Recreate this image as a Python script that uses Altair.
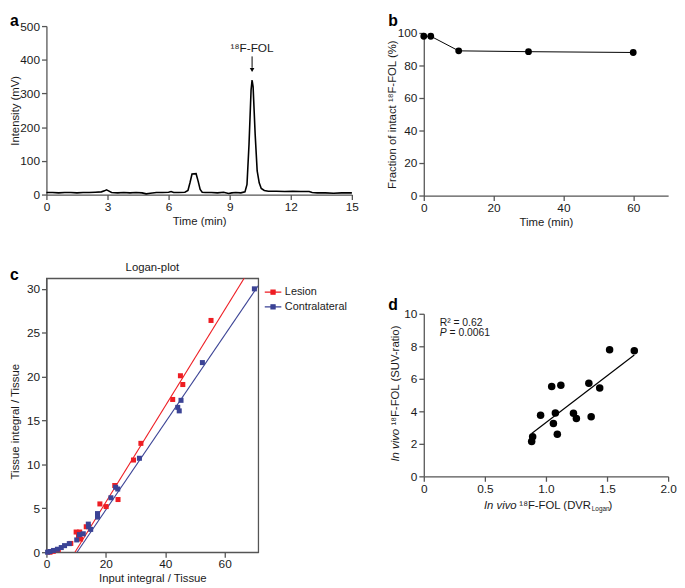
import altair as alt
import pandas as pd

FONT = "Liberation Sans"
AXC = "#555555"
TXT = "#1a1a1a"
RED = "#ee1d23"
BLUE = "#3b4395"

# ---------------- data ----------------
# a: radio-HPLC chromatogram
chrom_time = [0, 0.3, 0.6, 0.9, 1.2, 1.5, 1.8, 2.1, 2.4, 2.7,
              2.85, 2.95, 3.05, 3.2, 3.5, 3.8, 4.1, 4.4, 4.7, 4.9,
              5.1, 5.4, 5.7, 6.0, 6.12, 6.25, 6.5, 6.8, 6.95, 7.05,
              7.15, 7.35, 7.45, 7.55, 7.65, 7.8, 8.1, 8.4, 8.7, 8.95,
              9.1, 9.3, 9.55, 9.75, 9.85, 9.95, 10.05, 10.1, 10.15, 10.25,
              10.35, 10.45, 10.55, 10.7, 10.9, 11.3, 11.7, 12.1, 12.5, 12.9,
              13.05, 13.3, 13.7, 14.1, 14.5, 14.8, 15.0]
chrom_mv = [6, 6, 5, 6, 6, 5, 6, 6, 7, 8,
            11, 14, 11, 6, 5, 6, 5, 6, 5, 2,
            4, 6, 6, 7, 9, 6, 6, 7, 12, 35,
            61, 62, 40, 15, 7, 6, 6, 5, 7, 3,
            5, 6, 5, 8, 30, 150, 310, 340, 320, 180,
            70, 35, 18, 12, 10, 10, 9, 10, 9, 9,
            6, 5, 5, 4, 5, 5, 5]
peak_label = ["¹⁸F-FOL"]
peak_time = [10.1]

# b: metabolite analysis
metab_time = [0, 2, 10, 30, 60]
metab_intact = [98, 98, 89, 88.5, 88]

# c: Logan plot
lesion_x = [1.2, 2.3, 4.0, 8.2, 10.0, 10.8, 11.2, 11.5, 13.4, 18.0,
            20.1, 23.0, 24.1, 29.3, 31.8, 42.5, 45.1, 45.9, 55.4]
lesion_y = [0.0, 0.1, 0.3, 1.0, 2.3, 1.9, 2.3, 1.5, 2.9, 5.5,
            5.2, 7.6, 6.0, 10.5, 12.4, 17.4, 20.1, 19.1, 26.4]
contra_x = [0.4, 1.2, 2.4, 3.7, 5.0, 6.1, 7.7, 10.2, 11.1, 12.4,
            14.1, 14.2, 14.9, 17.2, 17.2, 21.7, 23.3, 24.0, 31.3, 44.2,
            44.7, 45.3, 52.5, 70.0]
contra_y = [0.0, 0.08, 0.2, 0.34, 0.53, 0.75, 0.98, 1.4, 2.0, 2.1,
            3.2, 2.9, 2.6, 4.4, 4.0, 6.2, 7.4, 7.2, 10.7, 16.5,
            16.1, 17.3, 21.6, 30.0]
fit_series = ["Lesion", "Lesion", "Contralateral", "Contralateral"]
fit_x = [9.6, 68.0, 10.3, 74.6]
fit_y = [0.0, 32.0, 0.0, 32.0]

# d: correlation
dvr = [0.883, 0.891, 0.956, 1.047, 1.122, 1.061, 1.077, 1.093, 1.225, 1.249,
       1.351, 1.370, 1.440, 1.521, 1.723]
suv = [2.14, 2.44, 3.76, 5.52, 5.60, 3.25, 3.90, 2.59, 3.88, 3.56,
       5.72, 3.66, 5.43, 7.78, 7.72]


def letter(ch, x, y):
    return alt.Chart(pd.DataFrame({"p": [ch]})).mark_text(
        fontSize=16, fontWeight="bold", align="left", baseline="top",
        color="black", font=FONT
    ).encode(text="p:N", x=alt.value(x), y=alt.value(y))


def ptext(txt, x, y, size=11.5, italic=False, angle=0):
    kw = dict(fontSize=size, align="left", baseline="alphabetic", color=TXT, font=FONT)
    if italic:
        kw["fontStyle"] = "italic"
    if angle:
        kw["angle"] = angle
    return alt.Chart(pd.DataFrame({"p": [txt]})).mark_text(**kw).encode(
        text="p:N", x=alt.value(x), y=alt.value(y))


# ---------------- panel a ----------------
xa = alt.X("t:Q", scale=alt.Scale(domain=[0, 15], nice=False),
           axis=alt.Axis(values=[0, 3, 6, 9, 12, 15], title="Time (min)"))
ya = alt.Y("mv:Q", scale=alt.Scale(domain=[0, 500], nice=False),
           axis=alt.Axis(values=[0, 100, 200, 300, 400, 500], title="Intensity (mV)", titleX=-26.5))
a_line = alt.Chart(pd.DataFrame({"t": chrom_time, "mv": chrom_mv})).mark_line(
    color="black", strokeWidth=1.6).encode(x=xa, y=ya)
a_txt = alt.Chart(pd.DataFrame({"t": peak_time, "mv": [424], "label": peak_label})).mark_text(
    fontSize=12, align="center", baseline="alphabetic", color=TXT, font=FONT
).encode(x=xa, y=ya, text="label:N")
a_rule = alt.Chart(pd.DataFrame({"t": peak_time, "mv": [410], "mv2": [376]})).mark_rule(
    color="black", strokeWidth=1).encode(x=xa, y=ya, y2="mv2:Q")
a_head = alt.Chart(pd.DataFrame({"t": peak_time, "mv": [370]})).mark_point(
    shape="triangle-down", filled=True, size=22, color="black", opacity=1).encode(x=xa, y=ya)
panel_a = alt.layer(a_line, a_txt, a_rule, a_head, letter("a", -37, -13)).properties(width=310, height=171)

# ---------------- panel b ----------------
xb = alt.X("time:Q", scale=alt.Scale(domain=[0, 70], nice=False),
           axis=alt.Axis(values=[0, 20, 40, 60], title="Time (min)"))
yb = alt.Y("frac:Q", scale=alt.Scale(domain=[0, 100], range=[172, 7], nice=False),
           axis=alt.Axis(values=[0, 20, 40, 60, 80, 100], title="Fraction of intact ¹⁸F-FOL (%)", titleX=-26.5))
bdf = pd.DataFrame({"time": metab_time, "frac": metab_intact})
b_line = alt.Chart(bdf).mark_line(color="black", strokeWidth=1).encode(x=xb, y=yb)
b_pts = alt.Chart(bdf).mark_circle(size=48, color="black", opacity=1).encode(x=xb, y=yb)
panel_b = alt.layer(b_line, b_pts, letter("b", -36, -13)).properties(width=248, height=172)

# ---------------- panel c ----------------
leg = alt.Legend(title=None, orient="none", legendX=222, legendY=6,
                 symbolType="M-1.2,0L1.2,0M-0.3,-0.3L0.3,-0.3L0.3,0.3L-0.3,0.3Z",
                 symbolSize=196, symbolStrokeWidth=1.2, labelFontSize=11, labelColor=TXT,
                 labelFont=FONT, rowPadding=2)
color = alt.Color("series:N", scale=alt.Scale(domain=["Lesion", "Contralateral"], range=[RED, BLUE]),
                  legend=leg)
xc = alt.X("x:Q", scale=alt.Scale(domain=[0, 71.3], nice=False),
           axis=alt.Axis(values=[0, 20, 40, 60], title="Input integral / Tissue"))
yc = alt.Y("y:Q", scale=alt.Scale(domain=[0, 31.2], nice=False),
           axis=alt.Axis(values=[0, 5, 10, 15, 20, 25, 30], title="Tissue integral / Tissue",
                         titleX=-26.5, titleY=145))
cdf = pd.DataFrame({
    "series": ["Lesion"] * len(lesion_x) + ["Contralateral"] * len(contra_x),
    "x": lesion_x + contra_x,
    "y": lesion_y + contra_y,
})
fdf = pd.DataFrame({"series": fit_series, "x": fit_x, "y": fit_y})
c_lines = alt.Chart(fdf).mark_line(clip=True, strokeWidth=1.1).encode(x=xc, y=yc, color=color)
c_pts = alt.Chart(cdf).mark_square(size=26, opacity=1).encode(x=xc, y=yc, color=color)
c_title = alt.Chart(pd.DataFrame({"p": ["Logan-plot"]})).mark_text(
    fontSize=11.5, align="center", baseline="alphabetic", color=TXT, font=FONT
).encode(text="p:N", x=alt.value(107.5), y=alt.value(-7))
panel_c = alt.layer(c_lines, c_pts, c_title, letter("c", -37, -11)).properties(
    width=215, height=278, view=alt.ViewBackground(stroke=AXC, strokeWidth=1.3))

# ---------------- panel d ----------------
xd = alt.X("dvr:Q", scale=alt.Scale(domain=[0, 2], nice=False),
           axis=alt.Axis(values=[0, 0.5, 1, 1.5, 2], title=None, offset=-77,
                         labelExpr="datum.value === 0 ? '0' : format(datum.value, '.1f')"))
yd = alt.Y("suv:Q", scale=alt.Scale(domain=[0, 10], range=[201, 36], nice=False),
           axis=alt.Axis(values=[0, 2, 4, 6, 8, 10], title=None))
ddf = pd.DataFrame({"dvr": dvr, "suv": suv})
d_fit = alt.Chart(ddf).transform_regression("dvr", "suv").mark_line(
    color="black", strokeWidth=1.2).encode(x=xd, y=yd)
d_pts = alt.Chart(ddf).mark_circle(size=58, color="black", opacity=1).encode(x=xd, y=yd)
d_r2 = alt.Chart(pd.DataFrame({"dvr": [0.13], "suv": [9.27], "p": ["R² = 0.62"]})).mark_text(
    fontSize=10.5, align="left", baseline="alphabetic", color=TXT, font=FONT
).encode(x=xd, y=yd, text="p:N")
d_p1 = alt.Chart(pd.DataFrame({"dvr": [0.13], "suv": [8.62], "p": ["P"]})).mark_text(
    fontSize=10.5, align="left", baseline="alphabetic", color=TXT, font=FONT, fontStyle="italic"
).encode(x=xd, y=yd, text="p:N")
d_p2 = alt.Chart(pd.DataFrame({"dvr": [0.13], "suv": [8.62], "p": ["= 0.0061"]})).mark_text(
    fontSize=10.5, align="left", baseline="alphabetic", color=TXT, font=FONT, dx=10
).encode(x=xd, y=yd, text="p:N")
panel_d = alt.layer(
    d_fit, d_pts, d_r2, d_p1, d_p2,
    ptext("In vivo", 61, 234, italic=True),
    ptext("¹⁸F-FOL (DVR", 97, 234),
    ptext("Logan", 170.5, 236, size=6.5),
    ptext(")", 187.5, 234),
    ptext("In vivo", -25.5, 186, italic=True, angle=270),
    ptext("¹⁸F-FOL (SUV-ratio)", -25.5, 149.5, angle=270),
    letter("d", -36, 19),
).properties(width=248, height=278)

chart = alt.concat(
    panel_a, panel_b, panel_c, panel_d,
    columns=2, spacing={"row": 84, "column": 73}, bounds="flush"
).resolve_scale(color="independent").properties(padding=0).configure(font=FONT).configure_view(
    stroke="transparent"
).configure_axis(
    domainColor=AXC, tickColor=AXC, domainWidth=1.3, tickWidth=1.3, tickSize=5,
    labelFontSize=12, labelColor=TXT, labelFont=FONT, labelPadding=2,
    titleFontSize=11.5, titleFontWeight="normal", titleColor=TXT, titleFont=FONT,
    titlePadding=3, grid=False, labelFlush=False
)

chart.save("out.html", embed_options={"renderer": "svg", "actions": False})
